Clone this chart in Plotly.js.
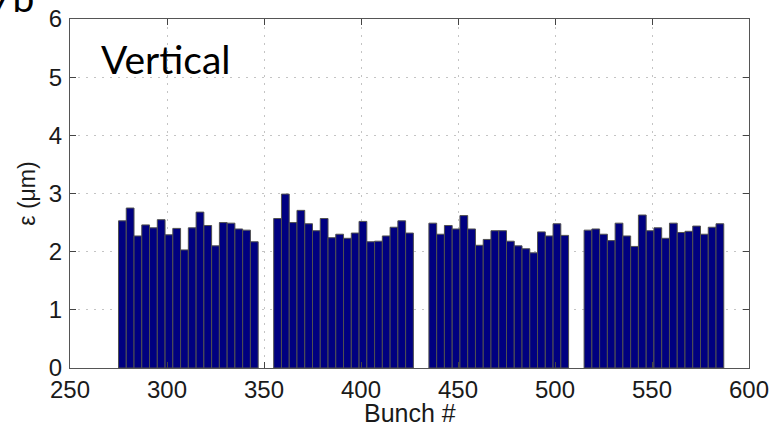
<!DOCTYPE html>
<html>
<head>
<meta charset="utf-8">
<script src="https://cdn.plot.ly/plotly-3.0.1.min.js"></script>
<style>html,body{margin:0;padding:0;background:#fff;}#chart{width:777px;height:431px;}</style>
</head>
<body>
<div id="chart"></div>
<script>
// Bunch numbers (x) and vertical emittance values (y)
const bunches = [
  277, 281, 285, 289, 293, 297, 301, 305, 309, 313, 317, 321, 325, 329, 333, 337, 341, 345,
  357, 361, 365, 369, 373, 377, 381, 385, 389, 393, 397, 401, 405, 409, 413, 417, 421, 425,
  437, 441, 445, 449, 453, 457, 461, 465, 469, 473, 477, 481, 485, 489, 493, 497, 501, 505,
  517, 521, 525, 529, 533, 537, 541, 545, 549, 553, 557, 561, 565, 569, 573, 577, 581, 585
];
const emittance = [
  2.53, 2.75, 2.27, 2.46, 2.41, 2.55, 2.29, 2.40, 2.03, 2.41, 2.68, 2.45, 2.10, 2.50, 2.49, 2.39, 2.37, 2.17,
  2.57, 2.99, 2.50, 2.71, 2.48, 2.36, 2.57, 2.24, 2.30, 2.23, 2.32, 2.52, 2.17, 2.18, 2.27, 2.42, 2.53, 2.32,
  2.49, 2.30, 2.45, 2.39, 2.62, 2.39, 2.11, 2.21, 2.36, 2.36, 2.18, 2.10, 2.05, 1.98, 2.34, 2.27, 2.48, 2.28,
  2.37, 2.39, 2.30, 2.19, 2.49, 2.27, 2.09, 2.63, 2.36, 2.41, 2.23, 2.49, 2.33, 2.35, 2.44, 2.30, 2.42, 2.48
];
const xTicks = [250, 300, 350, 400, 450, 500, 550, 600];
const yTicks = [0, 1, 2, 3, 4, 5, 6];
const barWidth = 4;

const trace = {
  type: 'bar',
  x: bunches,
  y: emittance,
  width: barWidth,
  marker: { color: '#000080', line: { color: '#505050', width: 1 } },
  hoverinfo: 'x+y'
};

const fam = 'Liberation Sans, Arial, sans-serif';
const tickFont = { family: fam, size: 24, color: '#1a1a1a' };

const layout = {
  width: 777, height: 431,
  margin: { l: 70, r: 28, t: 19, b: 63, pad: 0 },
  paper_bgcolor: '#fff', plot_bgcolor: '#fff',
  showlegend: false,
  bargap: 0,
  xaxis: {
    range: [250, 600],
    tickvals: xTicks,
    ticktext: xTicks.map(String),
    ticks: 'inside', ticklen: 6, tickcolor: '#444',
    showline: true, linecolor: '#555', linewidth: 1, mirror: 'ticks',
    showgrid: true, gridcolor: '#c4c4c4', gridwidth: 1, griddash: '2px,6px',
    zeroline: false,
    tickfont: tickFont,
    ticklabelstandoff: 0,
    automargin: false,
    title: { text: '' }
  },
  yaxis: {
    range: [0, 6],
    tickvals: yTicks,
    ticktext: yTicks.map(String),
    ticks: 'inside', ticklen: 6, tickcolor: '#444',
    showline: true, linecolor: '#555', linewidth: 1, mirror: 'ticks',
    showgrid: true, gridcolor: '#c4c4c4', gridwidth: 1, griddash: '2px,6px',
    zeroline: false,
    tickfont: tickFont,
    ticklabelstandoff: 2,
    automargin: false,
    title: { text: 'ε (μm)', font: { family: fam, size: 23, color: '#1a1a1a' }, standoff: 6 }
  },
  annotations: [
    {
      text: 'Bunch #', xref: 'paper', yref: 'paper', x: 0.5, y: -0.129,
      xanchor: 'center', yanchor: 'middle', showarrow: false,
      font: { family: fam, size: 25, color: '#1a1a1a' }
    },
    {
      text: 'Vertical', xref: 'paper', yref: 'paper', x: 0.043, y: 0.957,
      xanchor: 'left', yanchor: 'top', showarrow: false,
      font: { family: 'Lato, Open Sans, sans-serif', size: 39, color: '#000' }
    },
    {
      text: '7b', xref: 'paper', yref: 'paper', x: -0.05, y: 0.99,
      xanchor: 'right', yanchor: 'bottom', showarrow: false,
      font: { family: 'Lato, Open Sans, sans-serif', size: 39, color: '#000' }
    }
  ]
};

Plotly.newPlot('chart', [trace], layout, { displayModeBar: false, staticPlot: true });
</script>
</body>
</html>
